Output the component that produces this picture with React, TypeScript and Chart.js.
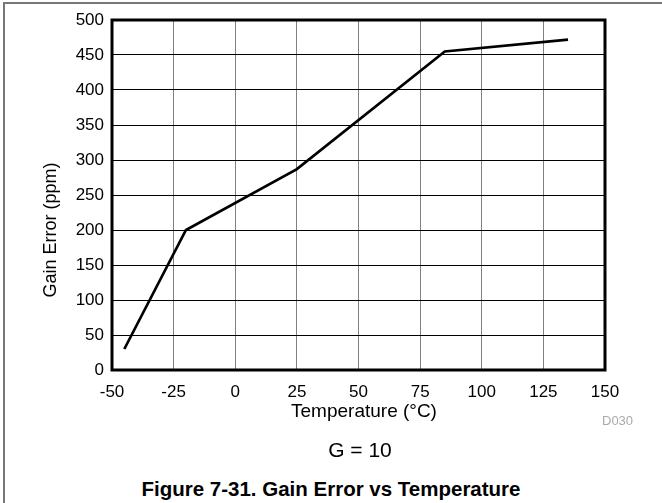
import React, { useEffect, useRef } from "react";
import { Chart, registerables } from "chart.js";

Chart.register(...registerables);

const temperatures = [-45, -20, 25, 85, 135];
const gainErrorPpm = [30, 200, 287, 455, 472];
const xMin = -50, xMax = 150, xStep = 25;
const yMin = 0, yMax = 500, yStep = 50;
const xTitle = "Temperature (°C)";
const yTitle = "Gain Error (ppm)";
const subTitle = "G = 10";
const caption = "Figure 7-31. Gain Error vs Temperature";
const code = "D030";

const FONT = "'Liberation Sans', Arial, sans-serif";

const framePlugin = {
  id: "frame",
  afterDraw(chart: any) {
    const { ctx, chartArea } = chart;
    ctx.save();
    ctx.strokeStyle = "#000";
    ctx.lineWidth = 3;
    ctx.strokeRect(chartArea.left, chartArea.top, chartArea.right - chartArea.left, chartArea.bottom - chartArea.top);
    ctx.restore();
  },
};

export default function App() {
  const ref = useRef<HTMLCanvasElement>(null);
  useEffect(() => {
    const chart = new Chart(ref.current!, {
      type: "line",
      data: {
        datasets: [
          {
            data: temperatures.map((t, i) => ({ x: t, y: gainErrorPpm[i] })),
            borderColor: "#000",
            borderWidth: 2.7,
            pointRadius: 0,
            tension: 0,
            fill: false,
          },
        ],
      },
      options: {
        animation: false,
        responsive: false,
        maintainAspectRatio: false,
        layout: { padding: { top: 20, right: 57, bottom: 0, left: 0 } },
        plugins: { legend: { display: false }, tooltip: { enabled: false } },
        scales: {
          x: {
            type: "linear",
            min: xMin,
            max: xMax,
            ticks: { stepSize: xStep, padding: 12, color: "#000", font: { family: FONT, size: 17 } },
            grid: { color: "#808080", lineWidth: 1, drawTicks: false },
            border: { display: false },
            title: { display: false },
            afterFit: (s: any) => { s.height = 60; },
          },
          y: {
            type: "linear",
            min: yMin,
            max: yMax,
            ticks: { stepSize: yStep, padding: 8, color: "#000", font: { family: FONT, size: 17 } },
            grid: { color: "#000", lineWidth: 1, drawTicks: false },
            border: { display: false },
            title: { display: false },
            afterFit: (s: any) => { s.width = 112; },
          },
        },
      },
      plugins: [framePlugin],
    });
    return () => chart.destroy();
  }, []);

  return (
    <div style={{ position: "fixed", left: 0, top: 0, width: 662, height: 503, background: "#fff", overflow: "hidden", fontFamily: FONT }}>
      <div style={{ position: "absolute", left: 3, top: 2, width: 700, height: 600, borderLeft: "2px solid #777", borderTop: "2px solid #777" }} />
      <canvas ref={ref} width={662} height={430} style={{ position: "absolute", left: 0, top: 0, width: 662, height: 430 }} />
      <div style={{ position: "absolute", left: -50, top: 221, width: 200, height: 18, fontSize: 18, lineHeight: "18px", color: "#000", textAlign: "center", whiteSpace: "nowrap", transform: "rotate(-90deg)" }}>{yTitle}</div>
      <div style={{ position: "absolute", left: 264, top: 401, width: 200, fontSize: 19, lineHeight: "19px", color: "#000", textAlign: "center", whiteSpace: "nowrap" }}>{xTitle}</div>
      <div style={{ position: "absolute", left: 590, top: 414, width: 60, fontSize: 13, lineHeight: "13px", color: "#aaa", textAlign: "left", paddingLeft: 12 }}>{code}</div>
      <div style={{ position: "absolute", left: 260, top: 439, width: 200, fontSize: 21, lineHeight: "21px", color: "#000", textAlign: "center" }}>{subTitle}</div>
      <div style={{ position: "absolute", left: 0, top: 479, width: 662, fontSize: 20.5, lineHeight: "20.5px", fontWeight: "bold", color: "#000", textAlign: "center", whiteSpace: "nowrap" }}>{caption}</div>
    </div>
  );
}
